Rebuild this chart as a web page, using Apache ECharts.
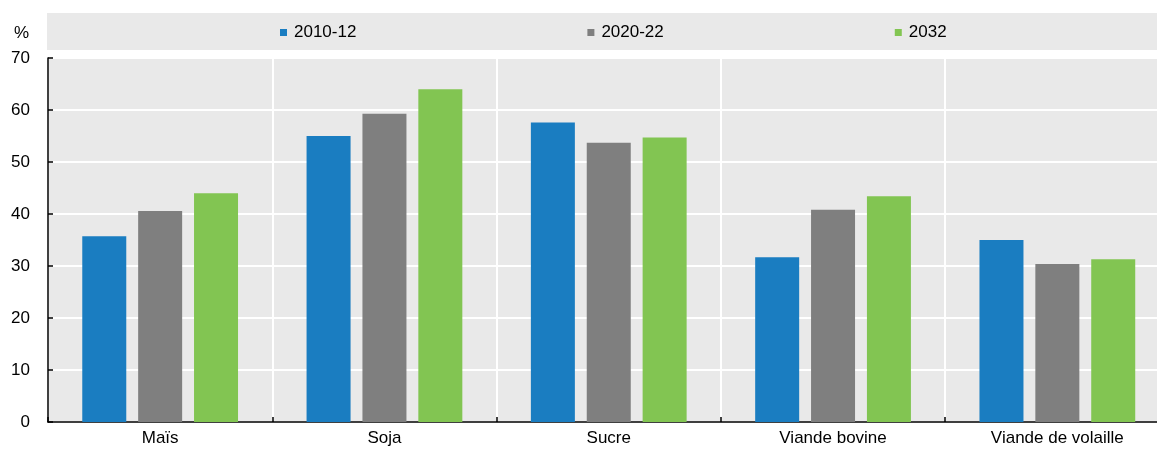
<!DOCTYPE html>
<html>
<head>
<meta charset="utf-8">
<script src="https://cdn.jsdelivr.net/npm/echarts@6/dist/echarts.min.js"></script>
<style>
html,body{margin:0;padding:0;background:#fff;}
#main{width:1157px;height:449px;}
</style>
</head>
<body>
<div id="main"></div>
<script>
const categories = ['Maïs', 'Soja', 'Sucre', 'Viande bovine', 'Viande de volaille'];
const seriesNames = ['2010-12', '2020-22', '2032'];
const values2010 = [35.7, 55.0, 57.6, 31.7, 35.0];
const values2020 = [40.6, 59.3, 53.7, 40.8, 30.4];
const values2032 = [44.0, 64.0, 54.7, 43.4, 31.3];
const colors = ['#1a7dc1', '#7f7f7f', '#82c552'];
const yTicks = [0, 10, 20, 30, 40, 50, 60, 70];

const FONT = '"Liberation Sans Narrow", "Arial Narrow", "Liberation Sans", Arial, sans-serif';
const FS = 17;
const chart = echarts.init(document.getElementById('main'), null, {renderer: 'canvas'});
const dataSets = [values2010, values2020, values2032];

chart.setOption({
  animation: false,
  textStyle: {fontFamily: FONT},
  graphic: [
    {type: 'rect', left: 47, top: 13, shape: {width: 1110, height: 37}, style: {fill: '#e9e9e9'}, z: -1},
    {type: 'text', left: 14, top: 25, style: {text: '%', fontFamily: FONT, fontSize: FS, fill: '#000'}}
  ],
  legend: {
    data: seriesNames,
    left: 280,
    top: 24,
    padding: 0,
    icon: 'rect',
    itemWidth: 7,
    itemHeight: 7,
    itemGap: 231,
    textStyle: {fontFamily: FONT, fontSize: FS, color: '#000', padding: [0, 0, 0, 2]}
  },
  grid: {
    left: 48, top: 58, width: 1121.5, height: 364,
    outerBoundsMode: 'none',
    show: true, backgroundColor: '#e9e9e9', borderWidth: 0,
    containLabel: false
  },
  xAxis: {
    type: 'category',
    data: categories,
    axisLine: {show: true, lineStyle: {color: '#000', width: 1.5}},
    axisTick: {show: true, inside: true, length: 5, lineStyle: {color: '#000', width: 1.5}},
    splitLine: {show: true, lineStyle: {color: '#fff', width: 2}},
    axisLabel: {fontFamily: FONT, fontSize: FS, color: '#000', margin: 8}
  },
  yAxis: {
    type: 'value',
    min: yTicks[0],
    max: yTicks[yTicks.length - 1],
    interval: 10,
    axisLine: {show: true, lineStyle: {color: '#000', width: 1.5}},
    axisTick: {show: true, inside: true, length: 5, lineStyle: {color: '#000', width: 1.5}},
    splitLine: {show: true, lineStyle: {color: '#fff', width: 2}},
    axisLabel: {fontFamily: FONT, fontSize: FS, color: '#000', margin: 18}
  },
  series: seriesNames.map((name, i) => ({
    name: name,
    type: 'bar',
    data: dataSets[i],
    barWidth: 44,
    barGap: '27%',
    itemStyle: {color: colors[i]},
    emphasis: {disabled: true}
  }))
});
</script>
</body>
</html>
